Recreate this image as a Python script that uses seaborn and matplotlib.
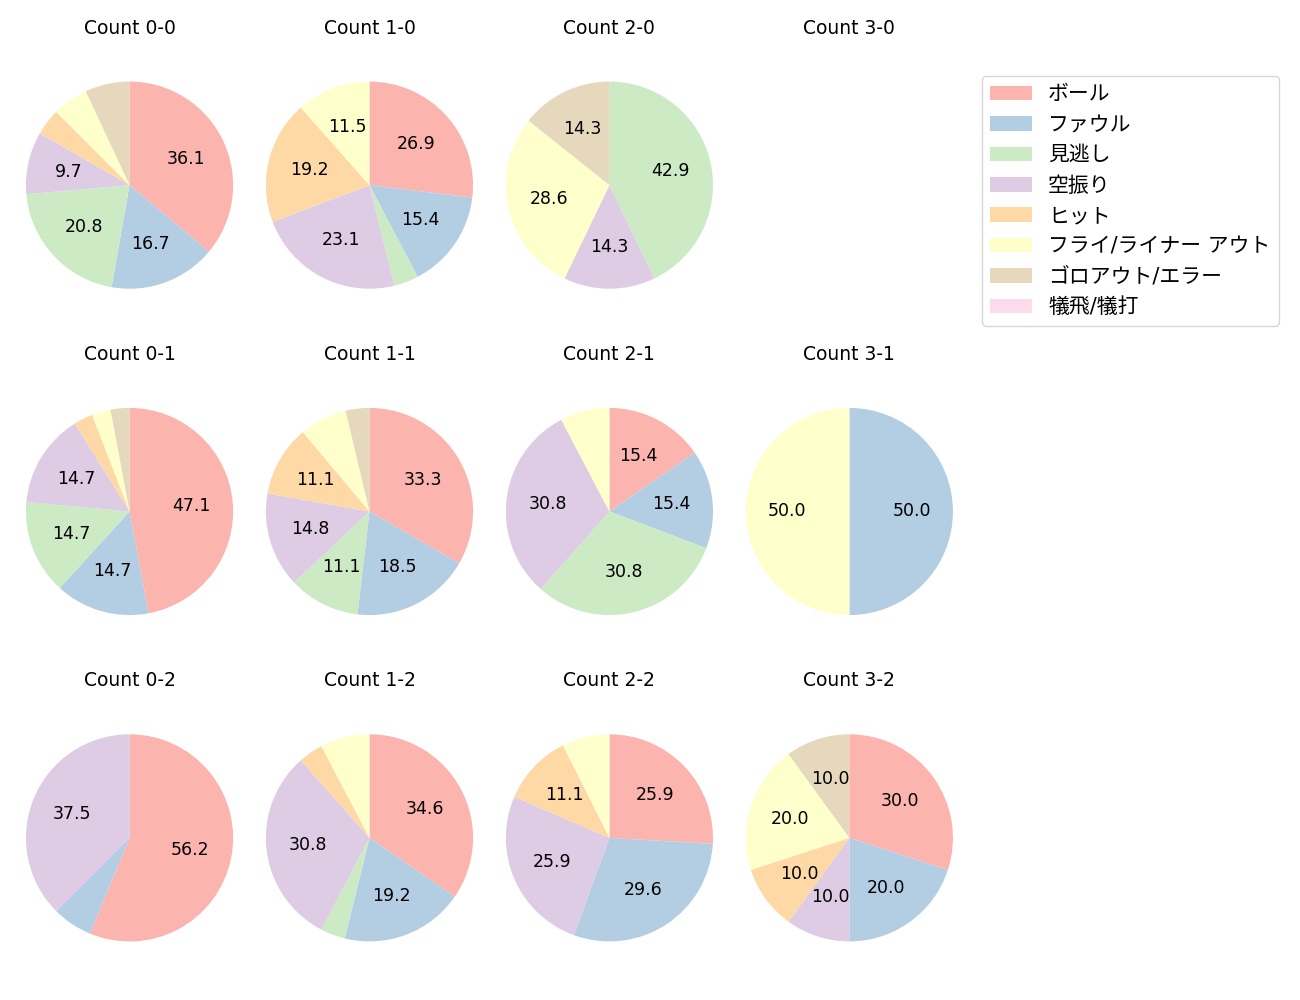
import matplotlib
matplotlib.use('Agg')
import matplotlib.pyplot as plt
from matplotlib.patches import Patch
import seaborn as sns

# Pitch outcome categories (legend order)
labels = ['ボール', 'ファウル', '見逃し', '空振り', 'ヒット',
          'フライ/ライナー アウト', 'ゴロアウト/エラー', '犠飛/犠打']

# Pitch counts per ball-strike count, in category order
c_0_0 = [26, 12, 15, 7, 3, 4, 5, 0]
c_1_0 = [7, 4, 1, 6, 5, 3, 0, 0]
c_2_0 = [0, 0, 3, 1, 0, 2, 1, 0]
c_3_0 = [0, 0, 0, 0, 0, 0, 0, 0]
c_0_1 = [16, 5, 5, 5, 1, 1, 1, 0]
c_1_1 = [9, 5, 3, 4, 3, 2, 1, 0]
c_2_1 = [2, 2, 4, 4, 0, 1, 0, 0]
c_3_1 = [0, 1, 0, 0, 0, 1, 0, 0]
c_0_2 = [9, 1, 0, 6, 0, 0, 0, 0]
c_1_2 = [9, 5, 1, 8, 1, 2, 0, 0]
c_2_2 = [7, 8, 0, 7, 3, 2, 0, 0]
c_3_2 = [3, 2, 0, 1, 1, 2, 1, 0]

counts = {
    '0-0': c_0_0, '1-0': c_1_0, '2-0': c_2_0, '3-0': c_3_0,
    '0-1': c_0_1, '1-1': c_1_1, '2-1': c_2_1, '3-1': c_3_1,
    '0-2': c_0_2, '1-2': c_1_2, '2-2': c_2_2, '3-2': c_3_2,
}

colors = sns.color_palette('Pastel1', 8)
plt.rcParams['font.family'] = ['DejaVu Sans', 'Noto Sans CJK JP']

fig, axes = plt.subplots(3, 4, figsize=(13, 10), dpi=100)
fig.subplots_adjust(left=0.012, right=0.741, top=0.958, bottom=0.019,
                    wspace=0.053, hspace=0.14)

for ax, (name, vals) in zip(axes.flat, counts.items()):
    ax.set_title('Count ' + name, fontsize=13.5)
    ax.set_axis_off()
    if sum(vals) == 0:
        continue
    idx = [i for i, v in enumerate(vals) if v > 0]
    ax.pie([vals[i] for i in idx], colors=[colors[i] for i in idx],
           startangle=90, counterclock=False,
           autopct=lambda p: f'{p:.1f}' if p > 8 else '',
           textprops={'fontsize': 12.5})
    ax.set_xlim(-1.1, 1.1)
    ax.set_ylim(-1.1, 1.1)
    ax.set_aspect('equal', adjustable='datalim')

handles = [Patch(facecolor=c, label=l) for c, l in zip(colors, labels)]
fig.legend(handles=handles, loc='upper left', bbox_to_anchor=(0.755, 0.924),
           borderaxespad=0, fontsize=15)

fig.savefig('out.png')
